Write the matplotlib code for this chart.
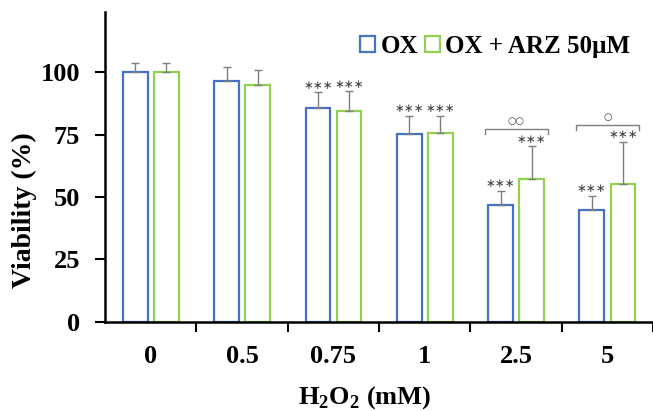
import numpy as np
import matplotlib.pyplot as plt

# H2O2 concentrations (mM) and viability (%)
doses = ["0", "0.5", "0.75", "1", "2.5", "5"]
ox_mean = [100, 96.3, 85.8, 75.2, 46.7, 45.0]
ox_err = [3.8, 5.9, 6.2, 7.2, 5.7, 5.4]
arz_mean = [100, 95.0, 84.6, 75.8, 57.4, 55.2]
arz_err = [3.8, 5.8, 7.8, 6.6, 12.9, 16.8]
ox_sig = ["", "", "∗∗∗", "∗∗∗", "∗∗∗", "∗∗∗"]
arz_sig = ["", "", "∗∗∗", "∗∗∗", "∗∗∗", "∗∗∗"]
# OX vs OX + ARZ comparison
pair_idx = [4, 5]
pair_sig = ["○○", "○"]
pair_y = [77.4, 78.7]

BLUE = "#4472C4"
GREEN = "#92D050"
GREY = "#7f7f7f"
SERIF = ["Liberation Serif", "DejaVu Serif"]

plt.rcParams["mathtext.fontset"] = "custom"
plt.rcParams["mathtext.rm"] = "Liberation Serif:bold"
plt.rcParams["mathtext.bf"] = "Liberation Serif:bold"

fig = plt.figure(figsize=(6.53, 4.11), dpi=100)
ax = fig.add_axes([0.161, 0.217, 0.839, 0.753])

x = np.arange(len(doses))
w = 0.27
off = 0.17

ax.bar(x - off, ox_mean, w, facecolor="white", edgecolor=BLUE, linewidth=1.6,
       yerr=[np.zeros(len(x)), ox_err], ecolor=GREY,
       error_kw=dict(elinewidth=1.0, capsize=3, capthick=1.0), label="OX", zorder=2)
ax.bar(x + off, arz_mean, w, facecolor="white", edgecolor=GREEN, linewidth=1.6,
       yerr=[np.zeros(len(x)), arz_err], ecolor=GREY,
       error_kw=dict(elinewidth=1.0, capsize=3, capthick=1.0),
       label="OX + ARZ 50\u00b5M", zorder=2)

for i in range(len(x)):
    if ox_sig[i]:
        ax.annotate(ox_sig[i], (x[i] - off, ox_mean[i] + ox_err[i]), xytext=(0, 0.5),
                    textcoords="offset points", ha="center", va="bottom",
                    fontsize=8.5, color="#404040")
    if arz_sig[i]:
        ax.annotate(arz_sig[i], (x[i] + off, arz_mean[i] + arz_err[i]), xytext=(0, 0.5),
                    textcoords="offset points", ha="center", va="bottom",
                    fontsize=8.5, color="#404040")

for i, s, yb in zip(pair_idx, pair_sig, pair_y):
    x0 = x[i] - off - w / 2 - 0.04
    x1 = x[i] + off + w / 2 + 0.04
    ax.plot([x0, x0, x1, x1], [yb - 2, yb, yb, yb - 2], color=GREY, lw=1.0)
    ax.text(x[i], yb + 1.2, s, ha="center", va="bottom", fontsize=7, color="#404040")

ax.set_xlim(-0.5, 5.5)
ax.set_ylim(0, 124)
ax.set_yticks([0, 25, 50, 75, 100])
ax.set_xticks(x + 0.5, minor=False)
ax.set_xticklabels([])
ax.set_xticks(x, minor=True)
ax.set_xticklabels(doses, minor=True)
ax.tick_params(axis="x", which="major", length=7, width=1.5, direction="out")
ax.tick_params(axis="x", which="minor", length=0, pad=17)
ax.tick_params(axis="y", length=7, width=1.5, direction="out", pad=11)

for lab in ax.get_yticklabels() + ax.get_xticklabels(minor=True):
    lab.set_fontfamily(SERIF)
    lab.set_fontweight("bold")
    lab.set_fontsize(19)

ax.spines["top"].set_visible(False)
ax.spines["right"].set_visible(False)
ax.spines["left"].set_linewidth(1.8)
ax.spines["bottom"].set_linewidth(1.8)

ax.set_ylabel("Viability (%)", fontfamily=SERIF, fontweight="bold", fontsize=20)
ax.yaxis.set_label_coords(-0.124, 0.36)
ax.set_xlabel("H$_2$O$_2$ (mM)", fontfamily=SERIF, fontweight="bold", fontsize=19)
ax.xaxis.set_label_coords(0.474, -0.2)

leg = ax.legend(loc="upper right", bbox_to_anchor=(1.0, 1.0), ncol=2, frameon=False,
                handlelength=0.6, handleheight=0.6, handletextpad=0.2, columnspacing=0.3,
                prop=dict(family=SERIF, weight="bold", size=18))

fig.savefig("out.png", dpi=100)
